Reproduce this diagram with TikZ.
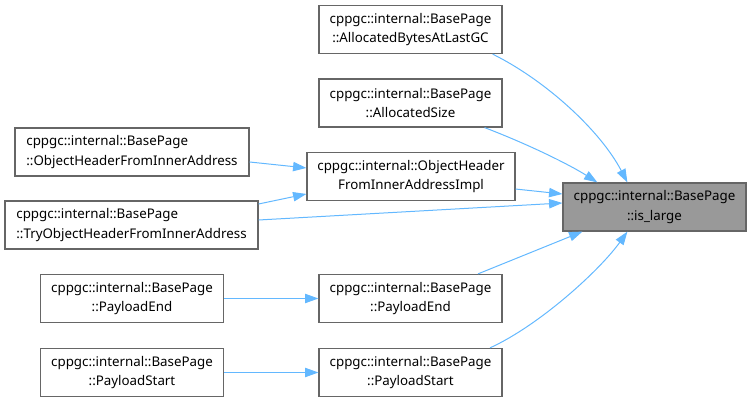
\documentclass[tikz,border=0pt]{standalone}
\usepackage{fontspec}
\setmainfont{Noto Sans}
\usetikzlibrary{arrows.meta}
\definecolor{edgeblue}{HTML}{63B8FF}
\definecolor{boxborder}{HTML}{666666}
\definecolor{boxfill}{HTML}{999999}
\begin{document}
\begin{tikzpicture}[x=0.75pt,y=-0.75pt,
  box/.style={draw=boxborder, line width=0.9pt, fill=white, inner sep=0pt,
    minimum height=36pt, font=\fontsize{10}{14.5}\selectfont, align=center},
  lbox/.style={box, align=left},
  edge/.style={draw=edgeblue, line width=0.75pt, -{Triangle[length=10pt,width=7pt]}}]
\useasboundingbox (0,0) rectangle (751,402);

\node[box, fill=boxfill, minimum width=137.25pt] (T) at (654.5,207) {cppgc::internal::BasePage\\::is\_large};
\node[box, minimum width=137.25pt] (A1) at (410.5,29.5) {cppgc::internal::BasePage\\::AllocatedBytesAtLastGC};
\node[box, minimum width=137.25pt] (A2) at (410.5,103) {cppgc::internal::BasePage\\::AllocatedSize};
\node[box, minimum width=156pt] (I) at (411,176.5) {cppgc::internal::ObjectHeader\\FromInnerAddressImpl};
\node[lbox, minimum width=175.5pt] (OH) at (132,152) {cppgc::internal::BasePage\\::ObjectHeaderFromInnerAddress};
\node[lbox, minimum width=189.75pt] (TRY) at (131.5,225) {cppgc::internal::BasePage\\::TryObjectHeaderFromInnerAddress};
\node[box, minimum width=137.25pt] (PEL) at (132,298.5) {cppgc::internal::BasePage\\::PayloadEnd};
\node[box, minimum width=137.25pt] (PEM) at (410.5,298.5) {cppgc::internal::BasePage\\::PayloadEnd};
\node[box, minimum width=137.25pt] (PSL) at (132,372.5) {cppgc::internal::BasePage\\::PayloadStart};
\node[box, minimum width=137.25pt] (PSM) at (410.5,372.5) {cppgc::internal::BasePage\\::PayloadStart};

\draw[edge] ([xshift=-7.5pt]A1.south east) .. controls (545,80) and (600,130) .. ([xshift=48.75pt]T.north west);
\draw[edge] ([xshift=-13.5pt]A2.south east) .. controls (530,145) and (570,165) .. ([xshift=26.25pt]T.north west);
\draw[edge] ([yshift=-9.4pt]I.east) -- ([yshift=9.75pt]T.west);
\draw[edge] ([yshift=3.75pt]TRY.east) -- ([yshift=3pt]T.west);
\draw[edge] ([yshift=-7.5pt]OH.east) -- ([yshift=6.4pt]I.west);
\draw[edge] ([yshift=15.75pt]TRY.east) -- ([yshift=-13.1pt]I.west);
\draw[edge] ([xshift=50.6pt]PEM.north) -- ([xshift=15pt]T.south west);
\draw[edge] ([xshift=59.6pt]PSM.north) .. controls (540,325) and (600,270) .. ([xshift=48.75pt]T.south west);
\draw[edge] (PEL) -- (PEM);
\draw[edge] (PSL) -- (PSM);
\end{tikzpicture}
\end{document}
